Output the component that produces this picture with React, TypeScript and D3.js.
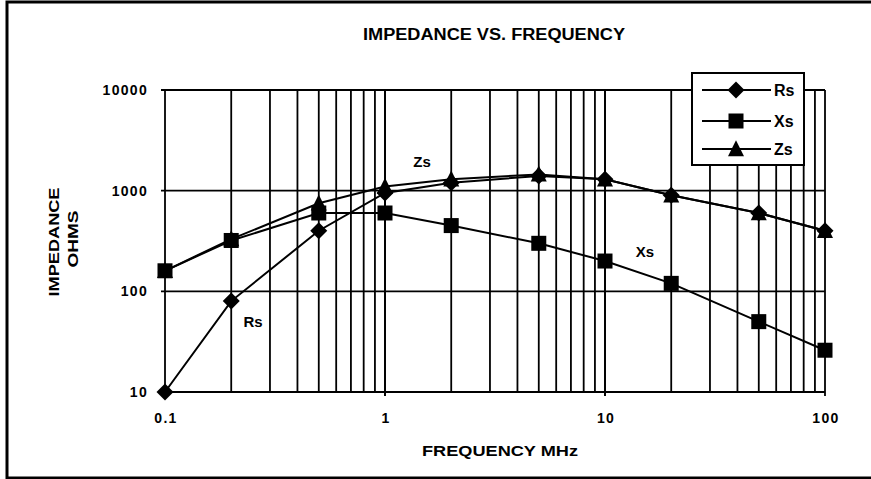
import React from 'react';
import * as d3 from 'd3';

// frequencies in MHz
const freqs = [0.1, 0.2, 0.5, 1, 2, 5, 10, 20, 50, 100];
// impedance in ohms
const rsValues = [10, 80, 400, 950, 1200, 1400, 1300, 900, 600, 400];
const xsValues = [160, 320, 600, 600, 450, 300, 200, 120, 50, 26];
const zsValues = [160, 330, 750, 1100, 1300, 1450, 1300, 900, 600, 400];

const xTickLabels = ['0.1', '1', '10', '100'];
const yTickLabels = ['10', '100', '1000', '10000'];

const seriesNames = ['Rs', 'Xs', 'Zs'];

const W = 871;
const H = 479;
const FONT = "'Liberation Sans', Arial, Helvetica, sans-serif";

function Marker({ kind, x, y }: { kind: string; x: number; y: number }) {
  if (kind === 'Rs') {
    const r = 8.5;
    return <path d={`M${x},${y - r}L${x + r},${y}L${x},${y + r}L${x - r},${y}Z`} fill="#000" />;
  }
  if (kind === 'Xs') {
    const s = 15;
    return <rect x={x - s / 2} y={y - s / 2} width={s} height={s} fill="#000" />;
  }
  const s = 16;
  return <path d={`M${x},${y - s * 0.55}L${x + s / 2},${y + s * 0.45}L${x - s / 2},${y + s * 0.45}Z`} fill="#000" />;
}

export default function App() {
  const x = d3.scaleLog().domain([0.1, 100]).range([165, 825]);
  const y = d3.scaleLog().domain([10, 10000]).range([392, 90]);

  // minor + major gridlines on frequency axis
  const vGrid: number[] = [];
  [0.1, 1, 10].forEach((dec) => {
    for (let k = 1; k <= 10; k++) vGrid.push(dec * k);
  });
  const decades = [0.1, 1, 10, 100];

  const line = d3
    .line<number>()
    .x((_, i) => x(freqs[i]))
    .y((d) => y(d));

  const data: Record<string, number[]> = { Rs: rsValues, Xs: xsValues, Zs: zsValues };

  const legendX = 692;
  const legendY = 73;
  const legendRows = [90, 121, 149];

  return (
    <svg
      width={W}
      height={H}
      style={{ position: 'absolute', left: 0, top: 0, background: '#fff' }}
      fontFamily={FONT}
    >
      <rect x={7} y={2} width={W} height={476} fill="#fff" stroke="#000" strokeWidth={3} />

      <text x={494} y={40} textAnchor="middle" fontSize={16} fontWeight="bold" textLength={262} lengthAdjust="spacingAndGlyphs">
        IMPEDANCE  VS.  FREQUENCY
      </text>

      {/* grid */}
      {vGrid.map((f) => (
        <line
          key={'v' + f}
          x1={x(f)}
          x2={x(f)}
          y1={y(10000)}
          y2={y(10) + (decades.includes(+f.toPrecision(3)) ? 4 : 0)}
          stroke="#000"
          strokeWidth={1.8}
        />
      ))}
      {[10, 100, 1000, 10000].map((v) => (
        <line key={'h' + v} x1={x(0.1) - 4} x2={x(100)} y1={y(v)} y2={y(v)} stroke="#000" strokeWidth={1.8} />
      ))}

      {/* tick labels */}
      {yTickLabels.map((t) => (
        <text key={'yl' + t} x={148} y={y(+t) + 5} textAnchor="end" fontSize={14} fontWeight="bold" letterSpacing={1.3}>
          {t}
        </text>
      ))}
      {xTickLabels.map((t) => (
        <text key={'xl' + t} x={x(+t) + 1} y={423} textAnchor="middle" fontSize={14} fontWeight="bold" letterSpacing={1.3}>
          {t}
        </text>
      ))}

      <text x={500} y={456} textAnchor="middle" fontSize={15} fontWeight="bold" textLength={156} lengthAdjust="spacingAndGlyphs">
        FREQUENCY  MHz
      </text>
      <text transform="translate(59,242) rotate(-90)" textAnchor="middle" fontSize={14} fontWeight="bold" textLength={109} lengthAdjust="spacingAndGlyphs">
        IMPEDANCE
      </text>
      <text transform="translate(78,239) rotate(-90)" textAnchor="middle" fontSize={14} fontWeight="bold" textLength={57} lengthAdjust="spacingAndGlyphs">
        OHMS
      </text>

      {/* series */}
      {seriesNames.map((name) => (
        <path key={'l' + name} d={line(data[name]) || ''} fill="none" stroke="#000" strokeWidth={2} />
      ))}
      {seriesNames.map((name) =>
        data[name].map((v, i) => <Marker key={name + i} kind={name} x={x(freqs[i])} y={y(v)} />)
      )}

      {/* in-plot labels */}
      <text x={422} y={167} textAnchor="middle" fontSize={15} fontWeight="bold">Zs</text>
      <text x={253} y={327} textAnchor="middle" fontSize={15} fontWeight="bold">Rs</text>
      <text x={645} y={257} textAnchor="middle" fontSize={15} fontWeight="bold">Xs</text>

      {/* legend */}
      <rect x={legendX} y={legendY} width={112} height={92} fill="#fff" stroke="#000" strokeWidth={2} />
      {seriesNames.map((name, i) => (
        <g key={'lg' + name}>
          <line x1={702} x2={771} y1={legendRows[i]} y2={legendRows[i]} stroke="#000" strokeWidth={2} />
          <Marker kind={name} x={736} y={legendRows[i]} />
          <text x={774} y={legendRows[i] + 6} fontSize={16} fontWeight="bold">{name}</text>
        </g>
      ))}
    </svg>
  );
}
